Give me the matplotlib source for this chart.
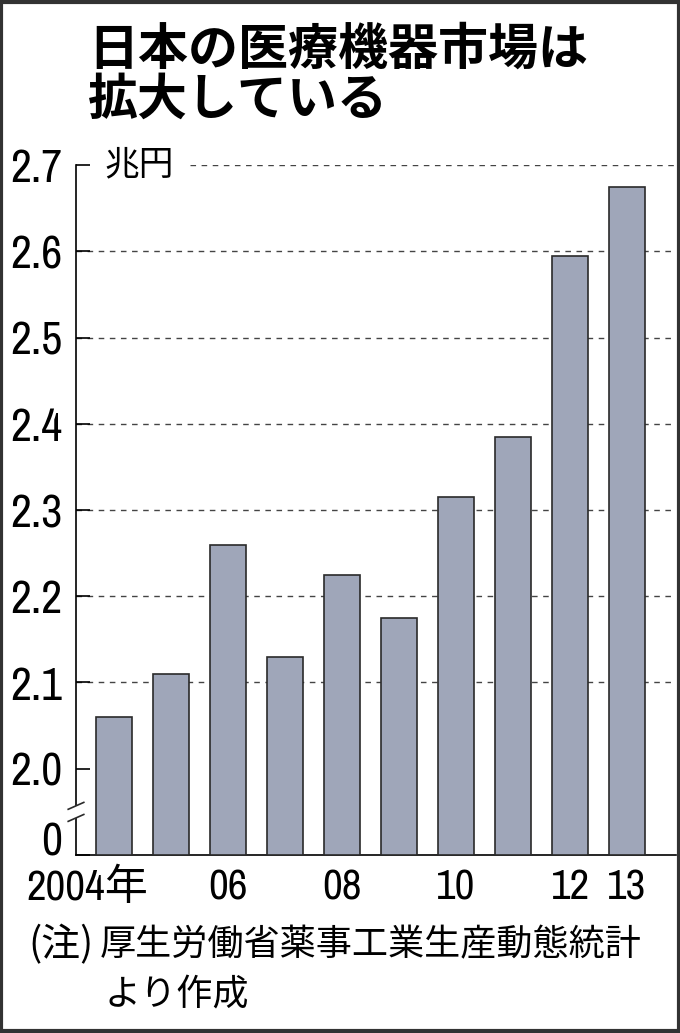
import matplotlib.pyplot as plt
import matplotlib.transforms as mtransforms
from matplotlib.patches import Rectangle

# データ（兆円）
years = [2004, 2005, 2006, 2007, 2008, 2009, 2010, 2011, 2012, 2013]
market = [2.06, 2.11, 2.26, 2.13, 2.225, 2.175, 2.315, 2.385, 2.595, 2.675]
xlabels = ['2004年', '', '06', '', '08', '', '10', '', '12', '13']
yticks = [1.9, 2.0, 2.1, 2.2, 2.3, 2.4, 2.5, 2.6, 2.7]
ytick_labels = ['0', '2.0', '2.1', '2.2', '2.3', '2.4', '2.5', '2.6', '2.7']
base = 1.9  # 波線で省略した「0」の位置

num_font = ['Archivo Narrow', 'Noto Sans CJK JP']
jp_font = ['Noto Sans CJK JP', 'DejaVu Sans']

fig = plt.figure(figsize=(6.8, 10.33), dpi=100)
ax = fig.add_axes([76 / 680, 1 - 855 / 1033, 600 / 680, 690 / 1033])

x = list(range(len(years)))
heights = [v - base for v in market]
ax.bar(x, heights, bottom=base, width=0.63, color='#9fa6b9',
       edgecolor='#2a2a2a', linewidth=1.2, zorder=3)

ax.set_xlim(-0.67, 9.86)
ax.set_ylim(base, 2.7)

# 横の破線
for v in yticks[2:-1]:
    ax.axhline(v, color='#444444', lw=1.0, ls=(0, (4, 4)), zorder=1)
ax.axhline(2.7, xmin=0.19, color='#444444', lw=1.0, ls=(0, (4, 4)), zorder=1)

ax.set_yticks(yticks)
ax.set_yticklabels(ytick_labels, family=num_font, fontsize=33)
ax.get_yticklabels()[0].set_verticalalignment('baseline')
ax.tick_params(axis='y', direction='in', length=10, width=1.2, pad=10)
ax.set_xticks([])

xform = mtransforms.blended_transform_factory(ax.transData, ax.transAxes)
for i, lab in enumerate(xlabels):
    if not lab:
        continue
    if i == 0:
        ax.text(0.6, -0.047, lab, transform=xform, ha='right', va='center',
                family=num_font, fontsize=31)
    else:
        ax.text(i, -0.047, lab, transform=xform, ha='center', va='center',
                family=num_font, fontsize=31)

for s in ['top', 'right']:
    ax.spines[s].set_visible(False)
ax.spines['left'].set_linewidth(1.2)
ax.spines['bottom'].set_linewidth(1.2)

# 省略記号
blend = mtransforms.blended_transform_factory(ax.transAxes, ax.transData)
ax.add_patch(Rectangle((-0.01, 1.943), 0.02, 0.014, transform=blend,
                       facecolor='white', edgecolor='none', zorder=5, clip_on=False))
for y0 in [1.943, 1.957]:
    ax.plot([-0.013, 0.013], [y0 - 0.004, y0 + 0.004], transform=blend,
            color='#2a2a2a', lw=1.2, clip_on=False, zorder=6)

# 単位
ax.text(0.048, 2.7, '兆円', transform=blend, ha='left', va='center',
        family=jp_font, fontsize=25)

# タイトル
fig.text(88 / 680, 1 - 50 / 1033, '日本の医療機器市場は', ha='left', va='center',
         family=jp_font, fontsize=36, weight='bold')
fig.text(88 / 680, 1 - 100 / 1033, '拡大している', ha='left', va='center',
         family=jp_font, fontsize=36, weight='bold')

# 注
fig.text(28 / 680, 1 - 945 / 1033, '(注)', ha='left', va='center',
         family=jp_font, fontsize=28)
fig.text(100 / 680, 1 - 945 / 1033, '厚生労働省薬事工業生産動態統計', ha='left', va='center',
         family=jp_font, fontsize=26)
fig.text(104 / 680, 1 - 995 / 1033, 'より作成', ha='left', va='center',
         family=jp_font, fontsize=26)

# 外枠
fig.add_artist(Rectangle((0.002, 0.002), 0.996, 0.996, transform=fig.transFigure,
                         fill=False, edgecolor='#333333', lw=3))

fig.savefig('out.png', dpi=100)
